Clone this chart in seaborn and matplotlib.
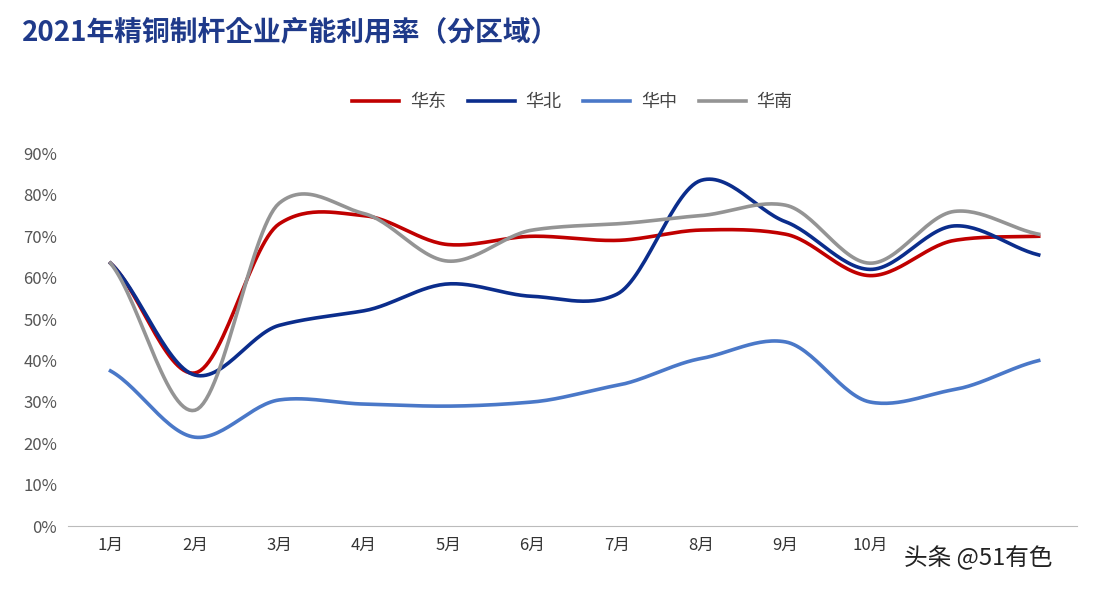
import numpy as np
import pandas as pd
import matplotlib
matplotlib.use("Agg")
import matplotlib.pyplot as plt
from matplotlib import font_manager as fm
import seaborn as sns

months = ["1月","2月","3月","4月","5月","6月","7月","8月","9月","10月","11月","12月"]
east  = [63.5, 37, 73, 75, 68, 70, 69, 71.5, 70.5, 60.5, 69, 70]
north = [63.5, 36.5, 48.5, 52, 58.5, 55.5, 56, 83.5, 73.5, 62, 72.5, 65.5]
central = [37.5, 21.5, 30.5, 29.5, 29, 30, 34, 40.5, 44.5, 30, 33, 40]
south = [63.5, 28, 78, 75.5, 64, 71.5, 73, 75, 77.5, 63.5, 76, 70.5]
series = {"华东": east, "华北": north, "华中": central, "华南": south}
colors = {"华东": "#C00000", "华北": "#0B2D8C", "华中": "#4A78C8", "华南": "#949494"}

def smooth(y, n=30, k=0.7):
    y = np.asarray(y, float)
    x = np.arange(len(y))
    m = np.gradient(y) * k
    xs, ys = [], []
    for i in range(len(y) - 1):
        t = np.linspace(0, 1, n, endpoint=False)
        h00 = 2*t**3 - 3*t**2 + 1; h10 = t**3 - 2*t**2 + t
        h01 = -2*t**3 + 3*t**2; h11 = t**3 - t**2
        xs.append(x[i] + t)
        ys.append(h00*y[i] + h10*m[i] + h01*y[i+1] + h11*m[i+1])
    xs.append([x[-1]]); ys.append([y[-1]])
    return np.concatenate(xs), np.concatenate(ys)

rows = []
for name, vals in series.items():
    xs, ys = smooth(vals)
    rows.append(pd.DataFrame({"x": xs, "y": ys, "s": name}))
df = pd.concat(rows)

cjk = None
for f in fm.findSystemFonts():
    if "NotoSansCJK" in f.replace(" ", ""):
        fm.fontManager.addfont(f)
for f in fm.fontManager.ttflist:
    if "CJK SC" in f.name or "CJK JP" in f.name:
        cjk = f.name
        if "SC" in f.name:
            break
plt.rcParams["font.family"] = [cjk or "Noto Sans CJK SC", "DejaVu Sans"]

fig = plt.figure(figsize=(11.02, 5.90), dpi=100)
ax = fig.add_axes([0.062, 0.108, 0.915, 0.632])
sns.lineplot(data=df, x="x", y="y", hue="s", palette=colors, linewidth=2.6,
             ax=ax, sort=False, estimator=None)
ax.set_ylim(0, 90)
ax.set_xlim(-0.5, 11.45)
ax.set_yticks(range(0, 91, 10))
ax.set_yticklabels([f"{v}%" for v in range(0, 91, 10)], color="#555555", fontsize=12)
ax.set_xticks(range(10))
ax.set_xticklabels(months[:10], color="#333333", fontsize=12)
ax.tick_params(length=0, pad=8)
ax.set_xlabel(""); ax.set_ylabel("")
for s in ["top", "right", "left"]:
    ax.spines[s].set_visible(False)
ax.spines["bottom"].set_color("#BBBBBB")
leg = ax.legend(loc="lower center", bbox_to_anchor=(0.5, 1.07), ncol=4, frameon=False,
                fontsize=13, handlelength=2.6, columnspacing=1.2, handletextpad=0.6)
for t in leg.get_texts():
    t.set_color("#444444")
fig.text(0.02, 0.945, "2021年精铜制杆企业产能利用率（分区域）", fontsize=20,
         fontweight="bold", color="#1F3A8A", va="center")
fig.text(0.82, 0.055, "头条 @51有色", fontsize=17, color="#222222", va="center")
fig.savefig("out.png", dpi=100)
